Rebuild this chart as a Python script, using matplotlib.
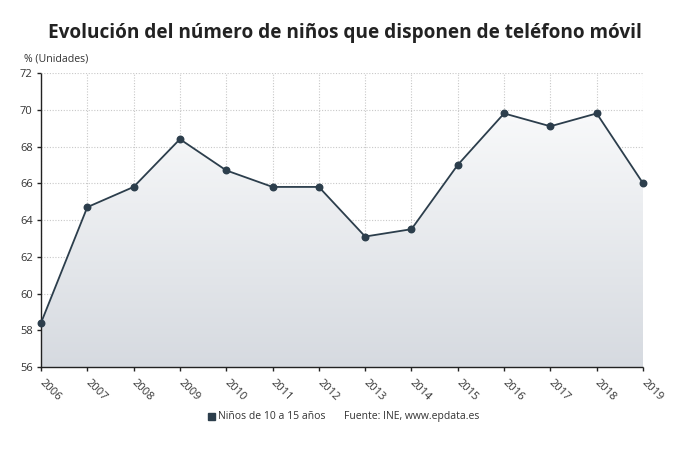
import numpy as np
import matplotlib.pyplot as plt
from matplotlib.colors import LinearSegmentedColormap
from matplotlib.patches import Polygon, Rectangle

plt.rcParams['font.family'] = ['Open Sans', 'DejaVu Sans']

# datos
years = [2006, 2007, 2008, 2009, 2010, 2011, 2012, 2013, 2014, 2015, 2016, 2017, 2018, 2019]
values = [58.4, 64.7, 65.8, 68.4, 66.7, 65.8, 65.8, 63.1, 63.5, 67.0, 69.8, 69.1, 69.8, 66.0]
y_ticks = [56, 58, 60, 62, 64, 66, 68, 70, 72]

line_color = '#2c3e4c'
text_color = '#333333'

fig = plt.figure(figsize=(6.9, 4.65), dpi=100)
ax = fig.add_axes([41 / 690, 1 - 367 / 465, (643 - 41) / 690, (367 - 73) / 465])

ax.set_xlim(years[0], years[-1])
ax.set_ylim(y_ticks[0], y_ticks[-1])

# relleno degradado bajo la línea
grad = np.linspace(0, 1, 256).reshape(-1, 1)
cmap = LinearSegmentedColormap.from_list('g', ['#d6dae0', '#f8f9fa'])
img = ax.imshow(grad, extent=[years[0], years[-1], y_ticks[0], max(values)],
                cmap=cmap, origin='lower', aspect='auto', zorder=1)
verts = [(years[0], y_ticks[0])] + list(zip(years, values)) + [(years[-1], y_ticks[0])]
poly = Polygon(verts, closed=True, facecolor='none', edgecolor='none')
ax.add_patch(poly)
img.set_clip_path(poly)

ax.plot(years, values, color=line_color, lw=1.3, zorder=3)
ax.scatter(years, values, s=22, color=line_color, zorder=4, clip_on=False)

# rejilla
ax.set_xticks(years)
ax.set_yticks(y_ticks)
ax.grid(True, color='#c8c8c8', linestyle=(0, (1, 1.5)), lw=0.8, zorder=0)
ax.set_axisbelow(True)

for s in ['top', 'right']:
    ax.spines[s].set_visible(False)
for s in ['left', 'bottom']:
    ax.spines[s].set_linestyle((0, (1, 1)))
    ax.spines[s].set_color('#222222')
    ax.spines[s].set_linewidth(1.0)

ax.tick_params(axis='both', length=3, width=1, color='#222222', labelcolor=text_color,
               labelsize=8)
ax.tick_params(axis='y', pad=3)
ax.set_xticklabels([str(y) for y in years], rotation=-45, ha='left', va='center',
                   rotation_mode='anchor', fontsize=8)
ax.tick_params(axis='x', pad=7)

fig.text(0.5, 1 - 33 / 465, 'Evolución del número de niños que disponen de teléfono móvil',
         ha='center', va='center', fontsize=13.7, fontweight='bold', color='#222222')
fig.text(24 / 690, 1 - 59 / 465, '% (Unidades)', ha='left', va='center',
         fontsize=7.6, color=text_color)

# leyenda
fig.patches.append(Rectangle((208 / 690, 1 - 420 / 465), 7 / 690, 7 / 465,
                             transform=fig.transFigure, color=line_color))
fig.text(218 / 690, 1 - 416 / 465, 'Niños de 10 a 15 años', ha='left', va='center',
         fontsize=7.5, color=text_color)
fig.text(344 / 690, 1 - 416 / 465, 'Fuente: INE, www.epdata.es', ha='left', va='center',
         fontsize=7.5, color=text_color)

plt.savefig('out.png', dpi=100)
